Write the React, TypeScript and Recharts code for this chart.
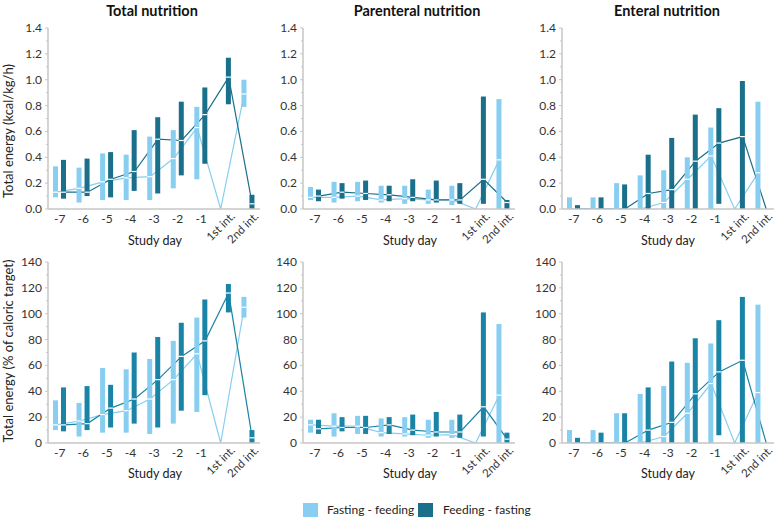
import React from "react";
import { ComposedChart, Bar, Line, XAxis, YAxis } from "recharts";

const days = ["-7", "-6", "-5", "-4", "-3", "-2", "-1", "1st int.", "2nd int."];

// [low, median, high] per study day; null low/high = no bar drawn
type Q = [number | null, number, number | null];

const totalKcalFastFeed: Q[] = [[0.09, 0.13, 0.33], [0.05, 0.16, 0.32], [0.07, 0.21, 0.43], [0.07, 0.24, 0.42], [0.07, 0.25, 0.56], [0.16, 0.39, 0.61], [0.23, 0.63, 0.79], [null, 0, null], [0.79, 0.89, 1.0]];
const totalKcalFeedFast: Q[] = [[0.08, 0.13, 0.38], [0.1, 0.13, 0.39], [0.09, 0.23, 0.44], [0.14, 0.29, 0.61], [0.12, 0.54, 0.71], [0.26, 0.53, 0.83], [0.35, 0.73, 0.94], [0.81, 1.02, 1.17], [0.0, 0.04, 0.11]];

const parenKcalFastFeed: Q[] = [[0.07, 0.09, 0.17], [0.05, 0.09, 0.21], [0.06, 0.1, 0.21], [0.05, 0.07, 0.18], [0.04, 0.08, 0.18], [0.04, 0.07, 0.15], [0.03, 0.07, 0.18], [null, 0, null], [0.0, 0.38, 0.85]];
const parenKcalFeedFast: Q[] = [[0.06, 0.1, 0.15], [0.08, 0.13, 0.2], [0.07, 0.12, 0.22], [0.06, 0.11, 0.18], [0.06, 0.09, 0.23], [0.05, 0.07, 0.22], [0.04, 0.07, 0.2], [0.04, 0.23, 0.87], [0.0, 0.05, 0.07]];

const enteralKcalFastFeed: Q[] = [[0, 0, 0.09], [0, 0, 0.09], [0, 0, 0.2], [0, 0, 0.26], [0, 0.05, 0.3], [0, 0.23, 0.4], [0, 0.41, 0.63], [null, 0, null], [0, 0.28, 0.83]];
const enteralKcalFeedFast: Q[] = [[0, 0, 0.03], [0, 0, 0.09], [0, 0, 0.19], [0, 0.12, 0.42], [0, 0.15, 0.55], [0, 0.37, 0.73], [0.04, 0.51, 0.78], [0, 0.56, 0.99], [null, 0, null]];

const totalPctFastFeed: Q[] = [[10, 14, 33], [5, 17, 31], [8, 22, 58], [8, 25, 57], [7, 34, 65], [15, 49, 79], [24, 69, 97], [null, 0, null], [97, 105, 113]];
const totalPctFeedFast: Q[] = [[9, 14, 43], [10, 15, 44], [12, 27, 45], [15, 34, 70], [12, 49, 82], [25, 67, 93], [37, 79, 111], [101, 116, 123], [0, 4, 10]];

const parenPctFastFeed: Q[] = [[8, 14, 18], [5, 13, 23], [7, 13, 21], [5, 8, 19], [5, 7, 20], [4, 6, 18], [4, 6.5, 18], [null, 0, null], [0, 37, 92]];
const parenPctFeedFast: Q[] = [[7, 11, 18], [9, 12, 20], [7, 12, 21], [7, 14, 20], [6, 10, 22], [5, 8.5, 24], [4, 8.5, 22], [5, 28, 101], [0, 3, 8]];

const enteralPctFastFeed: Q[] = [[0, 0, 10], [0, 0, 10], [0, 0, 23], [0, 0, 38], [0, 5, 44], [0, 23, 62], [0, 46, 77], [null, 0, null], [0, 39, 107]];
const enteralPctFeedFast: Q[] = [[0, 0, 4], [0, 0, 8], [0, 0, 23], [0, 10, 43], [0, 16, 63], [0, 38, 81], [6, 55, 95], [0, 64, 113], [null, 0, null]];

const kcalTicks = [0, 0.1, 0.2, 0.3, 0.4, 0.5, 0.6, 0.7, 0.8, 0.9, 1.0, 1.1, 1.2, 1.3, 1.4];
const pctTicks = [0, 10, 20, 30, 40, 50, 60, 70, 80, 90, 100, 110, 120, 130, 140];

const LIGHT = "#87cef0";
const DARK_TOP = "#1a6f8b";
const DARK_BOTTOM = "#1a84a6";
const AXIS = "#c6c6c6";
const FONT = "Lato, 'Open Sans', sans-serif";

const AXIS_X = 48; // left margin + y-axis width
const PLOT_BOTTOM = 209;

function buildRows(a: Q[], b: Q[]) {
  return days.map((day, i) => ({
    day,
    lRange: a[i][0] == null ? null : [a[i][0], a[i][2]],
    lMed: a[i][1],
    lQ: a[i],
    dRange: b[i][0] == null ? null : [b[i][0], b[i][2]],
    dMed: b[i][1],
    dQ: b[i],
  }));
}

const rangeShape = (color: string, key: "lQ" | "dQ") => (props: any) => {
  const { x, y, width, height, payload } = props;
  const q: Q = payload[key];
  if (q[0] == null || q[2] == null || !width) return <g />;
  const top = Math.min(y, y + height);
  const h = Math.abs(height);
  const lo = q[0];
  const hi = q[2];
  const ym = hi > lo ? top + (h * (hi - q[1])) / (hi - lo) : top;
  return (
    <g>
      <rect x={x} y={top} width={width} height={h} fill={color} />
      {q[1] > lo && <line x1={x} x2={x + width} y1={ym} y2={ym} stroke="#fff" strokeWidth={1.2} />}
    </g>
  );
};

const YTick = (major: (v: number) => boolean, fmt: (v: number) => string) => (props: any) => {
  const { y, payload } = props;
  const v = payload.value;
  const isMajor = major(v);
  return (
    <g>
      <line x1={AXIS_X - (isMajor ? 3 : 2)} x2={AXIS_X} y1={y} y2={y} stroke={AXIS} strokeWidth={1} />
      {isMajor && (
        <text x={AXIS_X - 6} y={y} dy={4} textAnchor="end" fontSize={12} fill="#333" fontFamily={FONT}>
          {fmt(v)}
        </text>
      )}
    </g>
  );
};

const XTick = (props: any) => {
  const { x, payload } = props;
  const v: string = payload.value;
  if (v.includes("int.")) {
    const ax = x + 11;
    const ay = PLOT_BOTTOM + 8;
    return (
      <text x={ax} y={ay} textAnchor="end" fontSize={11.5} fill="#333" fontFamily={FONT} transform={`rotate(-45 ${ax} ${ay})`}>
        {v}
      </text>
    );
  }
  return (
    <text x={x} y={PLOT_BOTTOM + 14} textAnchor="middle" fontSize={12} fill="#333" fontFamily={FONT}>
      {v}
    </text>
  );
};

type PanelProps = {
  left: number;
  top: number;
  fastFeed: Q[];
  feedFast: Q[];
  dark: string;
  ticks: number[];
  pct: boolean;
};

function Panel({ left, top, fastFeed, feedFast, dark, ticks, pct }: PanelProps) {
  const rows = buildRows(fastFeed, feedFast);
  const max = ticks[ticks.length - 1];
  const major = pct ? (v: number) => Math.round(v) % 20 === 0 : (v: number) => Math.round(v * 10) % 2 === 0;
  const fmt = pct ? (v: number) => String(v) : (v: number) => v.toFixed(1);
  return (
    <div style={{ position: "absolute", left, top }}>
      <ComposedChart width={264} height={245} data={rows} margin={{ top: 28, right: 4, bottom: 6, left: 8 }} barGap={3}>
        <XAxis dataKey="day" type="category" interval={0} tickLine={false} axisLine={{ stroke: AXIS, strokeWidth: 1.5 }} tick={XTick} height={30} />
        <YAxis type="number" domain={[0, max]} ticks={ticks} interval={0} width={40} tickLine={false} axisLine={{ stroke: AXIS, strokeWidth: 1.5 }} tick={YTick(major, fmt)} allowDataOverflow />
        <Line className="med-light" dataKey="lMed" stroke={LIGHT} strokeWidth={1.2} dot={false} isAnimationActive={false} zIndex={250} />
        <Line className="med-dark" dataKey="dMed" stroke={dark} strokeWidth={1.2} dot={false} isAnimationActive={false} zIndex={250} />
        <Bar dataKey={(d: any) => d.lRange} barSize={5} fill={LIGHT} shape={rangeShape(LIGHT, "lQ")} isAnimationActive={false} />
        <Bar dataKey={(d: any) => d.dRange} barSize={5} fill={dark} shape={rangeShape(dark, "dQ")} isAnimationActive={false} />
      </ComposedChart>
    </div>
  );
}

const label = { fontFamily: FONT, fill: "#222" } as const;

export default function App() {
  return (
    <div style={{ position: "absolute", left: 0, top: 0, width: 778, height: 517, background: "#fff", overflow: "hidden" }}>
      <style>{`.med-light{transform:translateX(-4px)}.med-dark{transform:translateX(4px)}`}</style>
      <Panel left={0} top={0} fastFeed={totalKcalFastFeed} feedFast={totalKcalFeedFast} dark={DARK_TOP} ticks={kcalTicks} pct={false} />
      <Panel left={255} top={0} fastFeed={parenKcalFastFeed} feedFast={parenKcalFeedFast} dark={DARK_TOP} ticks={kcalTicks} pct={false} />
      <Panel left={514} top={0} fastFeed={enteralKcalFastFeed} feedFast={enteralKcalFeedFast} dark={DARK_TOP} ticks={kcalTicks} pct={false} />
      <Panel left={0} top={234} fastFeed={totalPctFastFeed} feedFast={totalPctFeedFast} dark={DARK_BOTTOM} ticks={pctTicks} pct />
      <Panel left={255} top={234} fastFeed={parenPctFastFeed} feedFast={parenPctFeedFast} dark={DARK_BOTTOM} ticks={pctTicks} pct />
      <Panel left={514} top={234} fastFeed={enteralPctFastFeed} feedFast={enteralPctFeedFast} dark={DARK_BOTTOM} ticks={pctTicks} pct />
      <svg width={778} height={517} style={{ position: "absolute", left: 0, top: 0, pointerEvents: "none" }}>
        <text x={152} y={16} textAnchor="middle" fontSize={14.5} fontWeight="bold" {...label} fill="#111">Total nutrition</text>
        <text x={417} y={16} textAnchor="middle" fontSize={14.5} fontWeight="bold" {...label} fill="#111">Parenteral nutrition</text>
        <text x={667} y={16} textAnchor="middle" fontSize={14.5} fontWeight="bold" {...label} fill="#111">Enteral nutrition</text>
        <text x={13} y={131} textAnchor="middle" fontSize={13} {...label} transform="rotate(-90 13 131)">Total energy (kcal/kg/h)</text>
        <text x={13} y={351} textAnchor="middle" fontSize={13} {...label} transform="rotate(-90 13 351)">Total energy (% of caloric target)</text>
        <text x={155} y={245} textAnchor="middle" fontSize={12.5} {...label}>Study day</text>
        <text x={410} y={245} textAnchor="middle" fontSize={12.5} {...label}>Study day</text>
        <text x={668} y={245} textAnchor="middle" fontSize={12.5} {...label}>Study day</text>
        <text x={155} y={478} textAnchor="middle" fontSize={12.5} {...label}>Study day</text>
        <text x={410} y={478} textAnchor="middle" fontSize={12.5} {...label}>Study day</text>
        <text x={668} y={478} textAnchor="middle" fontSize={12.5} {...label}>Study day</text>
        <rect x={303} y={503} width={15} height={14} fill={LIGHT} />
        <text x={327} y={514} fontSize={12} {...label}>Fasting - feeding</text>
        <rect x={418} y={503} width={15} height={14} fill={DARK_TOP} />
        <text x={443} y={514} fontSize={12} {...label}>Feeding - fasting</text>
      </svg>
    </div>
  );
}
